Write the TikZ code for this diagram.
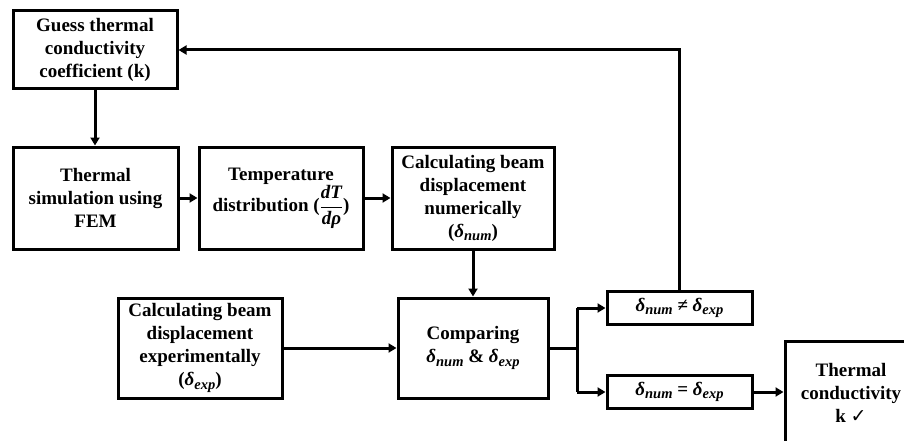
\documentclass[tikz,border=0pt]{standalone}
\usepackage{amsmath}
\usepackage{fontspec}
\setmainfont{Liberation Serif}
\newfontfamily\dejavu{DejaVu Sans}
\usetikzlibrary{arrows.meta}
\newcommand\dsym[1]{\textit{δ}\raisebox{-0.4ex}{\fontsize{14.5}{15}\selectfont\textit{#1}}}
\tikzset{
  box/.style={draw, line width=3pt, align=center, inner sep=2pt,
    font=\fontsize{19}{23}\selectfont\bfseries\boldmath},
  conn/.style={line width=3pt, -{Triangle[length=8pt,width=9pt]}},
  plain/.style={line width=3pt}
}
\begin{document}
\begin{tikzpicture}[x=1pt,y=-1pt]
\useasboundingbox (0,0) rectangle (904,441);
\clip (0,0) rectangle (904,441);
\node[box, minimum width=164pt, minimum height=78pt] (b1) at (95,50) {Guess thermal\\conductivity\\coefficient (k)};
\node[box, minimum width=165pt, minimum height=102pt] (b2) at (95.5,198) {Thermal\\simulation using\\FEM};
\node[box, minimum width=164pt, minimum height=102pt] (b3) at (281,198) {Temperature\\distribution ($\dfrac{\textit{dT}}{\textit{dρ}}$)};
\node[box, minimum width=162pt, minimum height=102pt] (b4) at (473,198) {Calculating beam\\displacement\\numerically\\(\dsym{num})};
\node[box, minimum width=164pt, minimum height=100pt] (exp) at (200,348) {Calculating beam\\displacement\\experimentally\\(\dsym{exp})};
\node[box, minimum width=150pt, minimum height=100pt] (comp) at (473,348) {Comparing\\\dsym{num} \& \dsym{exp}};
\node[box, minimum width=145pt, minimum height=33pt] (ne) at (679.5,308) {\dsym{num} ≠ \dsym{exp}};
\node[box, minimum width=145pt, minimum height=33pt] (eq) at (679.5,392) {\dsym{num} = \dsym{exp}};
\node[box, minimum width=132pt, minimum height=104pt] (tc) at (851,393) {Thermal\\conductivity\\k {\dejavu\mdseries ✓}};
\coordinate (split) at (577,348);
\draw[conn] (b1.south) -- (b1.south |- b2.north);
\draw[conn] (b2.east) -- (b3.west);
\draw[conn] (b3.east) -- (b4.west);
\draw[conn] (comp.north |- b4.south) -- (comp.north);
\draw[conn] (exp.east) -- (comp.west);
\draw[plain] (comp.east) -- (split);
\draw[conn] (split |- ne.west) -- (ne.west);
\draw[conn] (split |- eq.west) -- (eq.west);
\draw[plain] (split |- ne.west) -- (split |- eq.west);
\draw[conn] (eq.east) -- (eq.east -| tc.west);
\draw[conn] (ne.north) -- (ne.north |- b1.east) -- (b1.east);
\end{tikzpicture}
\end{document}
